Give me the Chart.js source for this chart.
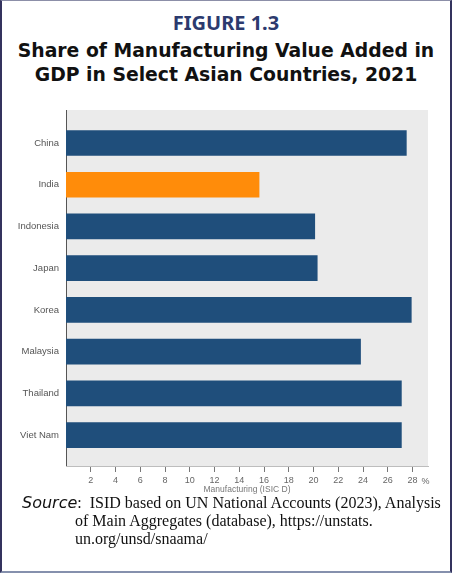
<!DOCTYPE html>
<html>
<head>
<meta charset="utf-8">
<script src="https://cdn.jsdelivr.net/npm/chart.js@4"></script>
<style>
  html, body { margin: 0; padding: 0; background: #fff; }
  #page { position: relative; width: 452px; height: 575px; overflow: hidden; background: #fff; }
  #frame { position: absolute; left: 0; top: 0; width: 448px; height: 570px;
           border-left: 2px solid #34335e; border-right: 2px solid #34335e;
           border-top: 1px solid #8c8fa8; border-bottom: 2px solid #8590ad; }
  #fig { position: absolute; left: 0; width: 452px; top: 9px; text-align: center;
         font-family: "Noto Sans", sans-serif; font-weight: 700; font-size: 20px; color: #2c3a6e; }
  .ttl { position: absolute; left: 0; width: 452px; text-align: center;
         font-family: "DejaVu Sans", sans-serif; font-weight: 700; font-size: 18.8px; color: #111; white-space: nowrap; }
  .src { position: absolute; font-family: "Liberation Serif", serif; font-size: 16px; color: #111; white-space: nowrap; }
  .src i { font-family: "DejaVu Sans", sans-serif; font-style: oblique; font-size: 16px; }
  canvas { position: absolute; left: 0; top: 0; }
</style>
</head>
<body>
<div id="page">
  <div id="frame"></div>
  <div id="fig">FIGURE 1.3</div>
  <div class="ttl" style="top:40px;">Share of Manufacturing Value Added in</div>
  <div class="ttl" style="top:64px;">GDP in Select Asian Countries, 2021</div>
  <canvas id="c" width="452" height="575"></canvas>
  <div class="src" style="left:22px; top:493px;"><i>Source</i>:&nbsp; ISID based on UN National Accounts (2023), Analysis</div>
  <div class="src" style="left:75px; top:512px;">of Main Aggregates (database), https://unstats.</div>
  <div class="src" style="left:75px; top:530px;">un.org/unsd/snaama/</div>
</div>
<script>
const categories = ['China', 'India', 'Indonesia', 'Japan', 'Korea', 'Malaysia', 'Thailand', 'Viet Nam'];
const manufacturingShare = [27.5, 15.6, 20.1, 20.3, 27.9, 23.8, 27.1, 27.1];
const xTickValues = [2, 4, 6, 8, 10, 12, 14, 16, 18, 20, 22, 24, 26, 28];
const highlighted = 'India';

const BLUE = '#1f4e7b';
const ORANGE = '#ff8c0a';

const plotBg = {
  id: 'plotBg',
  beforeDraw(chart) {
    const a = chart.chartArea, ctx = chart.ctx;
    ctx.save();
    ctx.fillStyle = '#ebebeb';
    ctx.fillRect(a.left, a.top, a.right - a.left, a.bottom - a.top);
    ctx.restore();
  },
  afterDraw(chart) {
    const xs = chart.scales.x, ctx = chart.ctx;
    const last = xTickValues[xTickValues.length - 1];
    ctx.save();
    ctx.font = '9px "Liberation Sans", Arial, sans-serif';
    ctx.fillStyle = '#666';
    ctx.textAlign = 'left';
    ctx.textBaseline = 'middle';
    ctx.fillText('%', xs.getPixelForValue(last) + 9, chart.chartArea.bottom + 15.5);
    ctx.restore();
  }
};

new Chart(document.getElementById('c'), {
  type: 'bar',
  data: {
    datasets: [{
      data: manufacturingShare.map((v, i) => ({ x: v, y: i })),
      backgroundColor: categories.map(c => c === highlighted ? ORANGE : BLUE),
      barThickness: 25,
      borderWidth: 0
    }]
  },
  options: {
    indexAxis: 'y',
    responsive: false,
    animation: false,
    devicePixelRatio: 1,
    layout: { padding: { left: 6, right: 24, top: 110, bottom: 80 } },
    plugins: { legend: { display: false }, tooltip: { enabled: false } },
    scales: {
      y: {
        type: 'linear',
        reverse: true,
        offset: false,
        min: -0.79,
        max: 7.74,
        afterBuildTicks: s => { s.ticks = categories.map((c, i) => ({ value: i })); },
        afterFit: s => { s.width = 60; },
        ticks: {
          callback: v => categories[v],
          font: { family: '"Liberation Sans", Arial, sans-serif', size: 9.5 },
          color: '#555',
          padding: 7,
          autoSkip: false
        },
        grid: { display: false, drawTicks: false, offset: false },
        border: { display: true, color: '#555', width: 1 }
      },
      x: {
        type: 'linear',
        min: 0,
        max: 29.25,
        afterBuildTicks: s => { s.ticks = xTickValues.map(v => ({ value: v })); },
        afterFit: s => { s.height = 29; },
        ticks: {
          font: { family: '"Liberation Sans", Arial, sans-serif', size: 9 },
          color: '#666',
          padding: 3,
          maxRotation: 0,
          autoSkip: false
        },
        grid: { drawOnChartArea: false, drawTicks: true, tickLength: 6, color: '#777' },
        border: { display: true, color: '#bdbdbd', width: 1 },
        title: {
          display: true,
          text: 'Manufacturing (ISIC D)',
          font: { family: '"Liberation Sans", Arial, sans-serif', size: 8.5 },
          color: '#777',
          padding: { top: 0, bottom: 0 }
        }
      }
    }
  },
  plugins: [plotBg]
});
</script>
</body>
</html>
